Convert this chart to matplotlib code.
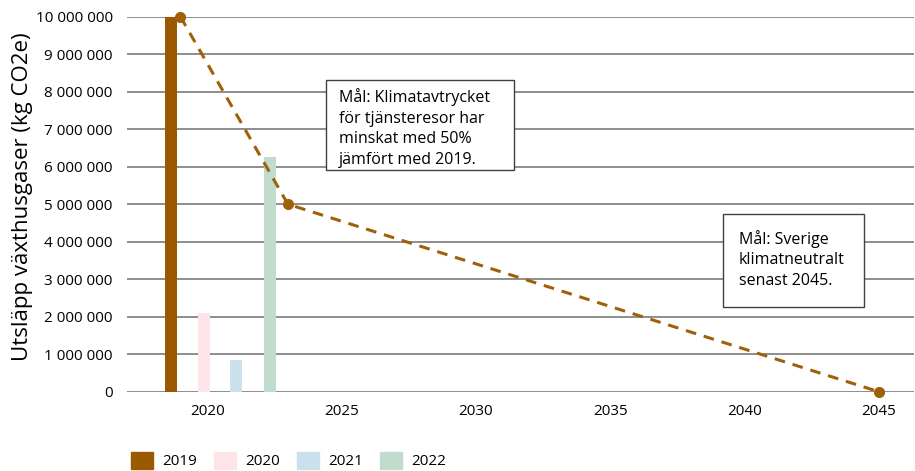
import matplotlib
matplotlib.use("Agg")
import matplotlib.pyplot as plt
from matplotlib.patches import Patch, Rectangle
from matplotlib.ticker import FuncFormatter

plt.rcParams['font.family'] = ['Open Sans', 'DejaVu Sans']

# Bars: yearly emissions (kg CO2e)
bar_labels = ['2019', '2020', '2021', '2022']
bar_x = [2018.64, 2019.87, 2021.06, 2022.32]
bar_values = [10_000_000, 2_100_000, 850_000, 6_250_000]
bar_colors = ['#9c5a00', '#fce4e8', '#c9e1ea', '#c0dccd']

# Target path
target_years = [2019, 2023, 2045]
target_values = [10_000_000, 5_000_000, 0]

x_ticks = [2020, 2025, 2030, 2035, 2040, 2045]
y_ticks = list(range(0, 10_000_001, 1_000_000))

note1 = 'Mål: Klimatavtrycket\nför tjänsteresor har\nminskat med 50%\njämfört med 2019.'
note2 = 'Mål: Sverige\nklimatneutralt\nsenast 2045.'

fig = plt.figure(figsize=(9.15, 4.71), dpi=100)
ax = fig.add_axes([0.1385, 0.1684, 0.860, 0.7962])

for y in y_ticks:
    ax.axhline(y, color='#7a7a7a', lw=1.2, zorder=0)

ax.bar(bar_x, bar_values, width=0.45, color=bar_colors, zorder=2)

ax.plot(target_years, target_values, color='#a0600a', lw=2.2, ls=(0, (3.5, 2.6)),
        marker='o', markersize=7, clip_on=False, zorder=3)

ax.set_xlim(2017.0, 2046.3)
ax.set_ylim(0, 10_000_000)
ax.set_xticks(x_ticks)
ax.set_yticks(y_ticks)
ax.yaxis.set_major_formatter(FuncFormatter(lambda v, p: f"{int(v):,}".replace(',', ' ')))
ax.tick_params(length=0, labelsize=11, colors='#000000')
ax.tick_params(axis='x', pad=9)
ax.tick_params(axis='y', pad=10)
for s in ax.spines.values():
    s.set_visible(False)

ax.set_ylabel('Utsläpp växthusgaser (kg CO2e)', fontsize=16)
ax.yaxis.set_label_coords(-0.119, 0.52)

# note boxes
ax.add_patch(Rectangle((2024.43, 5_910_000), 7.0, 2_400_000, facecolor='white',
                       edgecolor='#404040', lw=1, zorder=4))
ax.text(2024.89, 7_030_000, note1, fontsize=11.5, va='center', ha='left',
        linespacing=1.38, zorder=5)
ax.add_patch(Rectangle((2039.21, 2_260_000), 5.23, 2_480_000, facecolor='white',
                       edgecolor='#404040', lw=1, zorder=4))
ax.text(2039.80, 3_530_000, note2, fontsize=11.5, va='center', ha='left',
        linespacing=1.38, zorder=5)

handles = [Patch(color=c, label=l) for c, l in zip(bar_colors, bar_labels)]
fig.legend(handles=handles, loc='lower left', bbox_to_anchor=(0.128, -0.026), ncol=4,
           frameon=False, fontsize=11, handlelength=1.45, handleheight=1.4,
           handletextpad=0.6, columnspacing=1.1)

fig.savefig('out.png', dpi=100)
